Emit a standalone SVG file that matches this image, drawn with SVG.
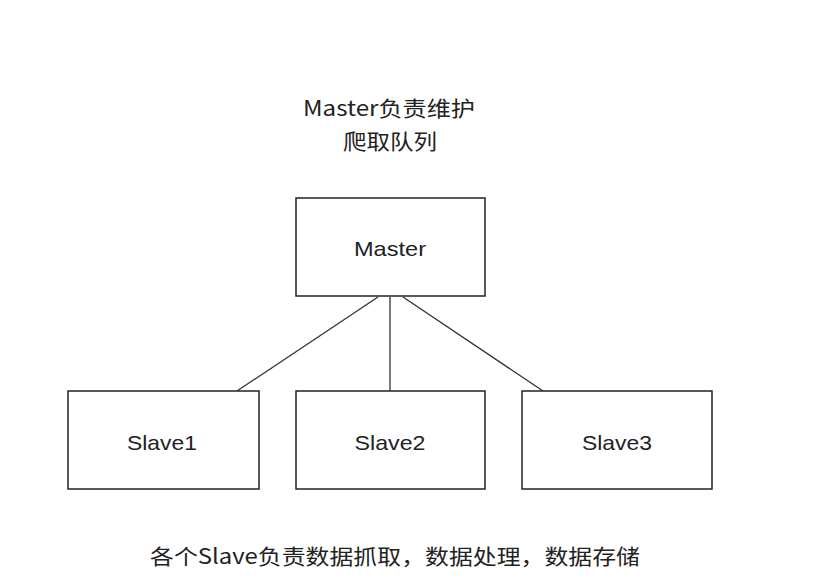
<svg xmlns="http://www.w3.org/2000/svg" width="816" height="580" viewBox="0 0 816 580">
<style>
.box{fill:#fff;stroke:#222;stroke-width:1.5}
.lbl{font-family:"Liberation Sans","Noto Sans CJK SC",sans-serif;font-size:21px;fill:#222;text-anchor:middle}
.cn{font-family:"Noto Sans CJK SC","Liberation Sans",sans-serif;font-size:21px;fill:#222;text-anchor:middle}
.edge{stroke:#333;stroke-width:1.3;fill:none}
</style>
<rect width="816" height="580" fill="#fff"/>
<g id="note-top">
<text class="cn" x="389" y="116" textLength="172" lengthAdjust="spacingAndGlyphs">Master负责维护</text>
<text class="cn" x="390" y="149" textLength="94" lengthAdjust="spacingAndGlyphs">爬取队列</text>
</g>
<g id="connectors">
<line class="edge" x1="378" y1="297" x2="237" y2="391"/>
<line class="edge" x1="390" y1="297" x2="390" y2="391"/>
<line class="edge" x1="403" y1="297" x2="543" y2="391"/>
</g>
<g id="master">
<rect class="box" x="296" y="198" width="189" height="98"/>
<text class="lbl" x="390" y="256" textLength="72" lengthAdjust="spacingAndGlyphs">Master</text>
</g>
<g id="slave1">
<rect class="box" x="68" y="391" width="191" height="98"/>
<text class="lbl" x="162" y="450" textLength="70" lengthAdjust="spacingAndGlyphs">Slave1</text>
</g>
<g id="slave2">
<rect class="box" x="296" y="391" width="189" height="98"/>
<text class="lbl" x="390" y="450" textLength="71" lengthAdjust="spacingAndGlyphs">Slave2</text>
</g>
<g id="slave3">
<rect class="box" x="522" y="391" width="190" height="98"/>
<text class="lbl" x="617" y="450" textLength="70" lengthAdjust="spacingAndGlyphs">Slave3</text>
</g>
<g id="note-bottom">
<text class="cn" x="395" y="564" textLength="490" lengthAdjust="spacingAndGlyphs">各个Slave负责数据抓取，数据处理，数据存储</text>
</g>
</svg>
